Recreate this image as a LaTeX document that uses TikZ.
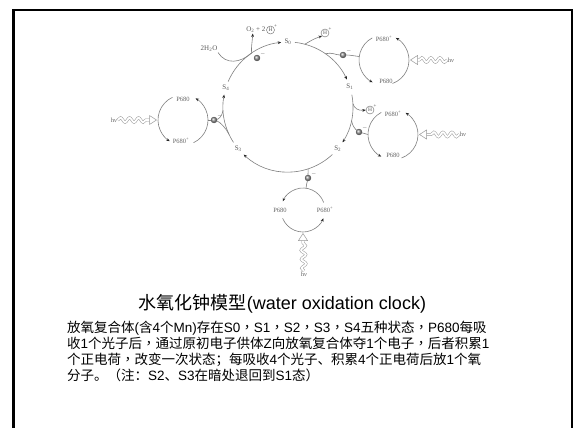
\documentclass[tikz,border=0pt]{standalone}
\usepackage{fontspec}
\setmainfont{Liberation Serif}
\newfontfamily\cjk{Noto Sans CJK SC}
\newfontfamily\cjktc{Noto Sans CJK TC}
\newfontfamily\lat{Liberation Sans}
\usetikzlibrary{arrows.meta,decorations.pathmorphing}
\newcommand\LL[1]{{\lat #1}}
\newcommand\CM{{\cjktc ，}}
\begin{document}
\begin{tikzpicture}[x=1pt,y=1pt,
  lineg/.style={draw=black!50, line width=0.6pt},
  tip/.style={-{Stealth[length=3.5pt,width=2.8pt,color=black!85]}},
  slab/.style={font=\fontsize{7}{8}\selectfont, text=black!65, inner sep=0.5pt},
  plab/.style={font=\fontsize{6.5}{7}\selectfont, text=black!60, inner sep=0.5pt},
  sup/.style={font=\fontsize{5}{5}\selectfont, text=black!70, inner sep=0pt},
  eball/.style={circle, inner sep=0pt, minimum size=6pt, shade, ball color=black!40, draw=black!65, line width=0.3pt, label={[sup]25:$-$}},
  hplus/.style={circle, draw=black!60, line width=0.4pt, inner sep=0pt, minimum size=8pt, font=\fontsize{5.5}{5.5}\selectfont, text=black!65, label={[sup]35:+}},
  wavy/.style={draw=black!40, double=white, double distance=1.8pt, line width=0.5pt, decorate, decoration={snake, amplitude=2.3pt, segment length=9pt, post length=1pt}},
  ahead/.style={draw=black!40, fill=white, line width=0.5pt},
  body/.style={anchor=base west, inner sep=0pt, font=\fontsize{13.5}{16}\selectfont\cjk, text=black}]
\useasboundingbox (0,0) rectangle (573,-428);
\clip (0,0) rectangle (573,-428);
\fill[white] (0,0) rectangle (573,-428);
\draw[line width=2.5pt] (13.3,-440) -- (13.3,-10) -- (572.5,-10) -- (572.5,-440);

% main cycle
\coordinate (C) at (288,-107);
\foreach \n/\a in {0/90,1/18,2/-40,3/220,4/163}
  \node[slab] (S\n) at ([shift={(\a:65)}]C) {S\textsubscript{\n}};
\draw[lineg,tip] ([shift={(84:65)}]C) arc[start angle=84,end angle=25,radius=65];
\draw[lineg,tip] ([shift={(11:65)}]C) arc[start angle=11,end angle=-33,radius=65];
\draw[lineg,tip] ([shift={(-47:65)}]C) arc[start angle=-47,end angle=-133,radius=65];
\draw[lineg,tip] ([shift={(213:65)}]C) arc[start angle=213,end angle=169,radius=65];
\draw[lineg,tip] ([shift={(157:65)}]C) arc[start angle=157,end angle=96,radius=65];

% top: water in, O2 out
\coordinate (J) at ([shift={(124:65)}]C);
\node[slab] (w) at (209,-49) {2H\textsubscript{2}O};
\draw[lineg] (w.south east) .. controls (226,-65) and (240,-63) .. (J);
\node[slab,anchor=east] (o2) at (266,-30) {O\textsubscript{2} + 2};
\node[hplus] (h0) at (270.5,-30) {H};
\draw[lineg,tip] (J) .. controls (251,-48) and (252,-44) .. ([xshift=-3pt]o2.south);
\node[eball] (eA) at (257,-58) {};

% H+ after S0
\coordinate (B0) at ([shift={(75:65)}]C);
\node[hplus] (h1) at (325,-33) {H};
\draw[lineg,tip] (B0) .. controls (309,-42) and (313,-39) .. (h1.south west);

% loop 1 (top right)
\coordinate (L1) at (384,-60);
\coordinate (bB) at ([shift={(55:65)}]C);
\coordinate (L1w) at ([shift={(172:25)}]L1);
\node[eball] (eB) at (343,-55) {};
\draw[lineg] (bB) .. controls (332,-52) and (336,-55) .. (eB);
\draw[lineg] (eB) .. controls (350,-55) and (355,-56) .. (L1w);
\draw[lineg,tip] ([shift={(-70:25)}]L1) arc[start angle=-70,end angle=62,radius=25];
\draw[lineg,tip] ([shift={(118:25)}]L1) arc[start angle=118,end angle=243,radius=25];
\node[plab] (p1t) at ([yshift=21pt]L1) {P680\textsuperscript{+}};
\node[plab] (p1b) at ([yshift=-21pt,xshift=2pt]L1) {P680};
\coordinate (L1e) at ([shift={(0:25)}]L1);
\node[plab] (hv1) at (451,-60) {h\textit{ν}};
\draw[wavy] (hv1.west) -- ([xshift=8pt]L1e);
\draw[ahead] ([xshift=1.5pt]L1e) -- ++(7,4.5) -- ++(0,-9) -- cycle;

% H+ after S1
\coordinate (B1) at ([shift={(3:65)}]C);
\node[hplus] (h2) at (370,-110) {H};
\draw[lineg,tip] (B1) .. controls (354,-108) and (358,-111) .. (h2.west);

% loop 2 (mid right)
\coordinate (L2) at (393,-134.5);
\coordinate (bC) at ([shift={(-12:65)}]C);
\coordinate (L2w) at ([shift={(180:25)}]L2);
\node[eball] (eC) at (359,-132) {};
\draw[lineg] (eC) .. controls (355,-129) and (352,-125) .. (bC);
\draw[lineg] (eC) -- (L2w);
\draw[lineg,tip] ([shift={(-70:25)}]L2) arc[start angle=-70,end angle=60,radius=25];
\draw[lineg,tip] ([shift={(118:25)}]L2) arc[start angle=118,end angle=242,radius=25];
\node[plab] (p2t) at ([yshift=21pt]L2) {P680\textsuperscript{+}};
\node[plab] (p2b) at ([yshift=-21pt]L2) {P680};
\coordinate (L2e) at ([shift={(0:25)}]L2);
\node[plab] (hv2) at (463,-134.5) {h\textit{ν}};
\draw[wavy] (hv2.west) -- ([xshift=8pt]L2e);
\draw[ahead] ([xshift=1.5pt]L2e) -- ++(7,4.5) -- ++(0,-9) -- cycle;

% loop 3 (bottom)
\coordinate (L3) at (303,-210);
\coordinate (bD) at ([shift={(-72:65)}]C);
\coordinate (L3n) at ([shift={(82:22)}]L3);
\node[eball] (eD) at (308,-178) {};
\draw[lineg] (eD) -- (bD);
\draw[lineg] (eD) .. controls (307,-183) and (306,-186) .. (L3n);
\draw[lineg,tip] ([shift={(20:22)}]L3) arc[start angle=20,end angle=157,radius=22];
\draw[lineg,tip] ([shift={(202:22)}]L3) arc[start angle=202,end angle=338,radius=22];
\node[plab] (p3l) at ([xshift=-23pt]L3) {P680};
\node[plab] (p3r) at ([xshift=22pt]L3) {P680\textsuperscript{+}};
\coordinate (L3s) at ([shift={(270:22)}]L3);
\node[plab] (hv3) at (304,-274) {h\textit{ν}};
\draw[wavy] (hv3.north) -- ([yshift=-8pt]L3s);
\draw[ahead] ([yshift=-1.5pt]L3s) -- ++(4.5,-7) -- ++(-9,0) -- cycle;

% loop 4 (left)
\coordinate (L4) at (183,-120);
\coordinate (bE1) at ([shift={(183:65)}]C);
\coordinate (bE2) at ([shift={(205:65)}]C);
\coordinate (L4e) at ([shift={(0:25)}]L4);
\node[eball] (eE) at (214,-120) {};
\draw[lineg] (eE) .. controls (219,-119) and (222,-116) .. (bE1);
\draw[lineg] (eE) .. controls (220,-122) and (226,-128) .. (bE2);
\draw[lineg] (eE) -- (L4e);
\draw[lineg,tip] ([shift={(115:25)}]L4) arc[start angle=115,end angle=238,radius=25];
\draw[lineg,tip] ([shift={(-65:25)}]L4) arc[start angle=-65,end angle=60,radius=25];
\node[plab] (p4t) at ([yshift=21pt]L4) {P680};
\node[plab] (p4b) at ([yshift=-21pt,xshift=-2pt]L4) {P680\textsuperscript{+}};
\coordinate (L4w) at ([shift={(180:25)}]L4);
\node[plab] (hv4) at (114,-120) {h\textit{ν}};
\draw[wavy] (hv4.east) -- ([xshift=-8pt]L4w);
\draw[ahead] ([xshift=-1.5pt]L4w) -- ++(-7,4.5) -- ++(0,-9) -- cycle;

% texts
\node[anchor=base, inner sep=0pt, font=\fontsize{18}{20}\selectfont\cjk] (title) at (282.5,-309) {水氧化钟模型\LL{(water oxidation clock)}};
\node[body] (t1) at (67,-332) {放氧复合体\LL{(}含\LL{4}个\LL{Mn)}存在\LL{S0}\CM\LL{S1}\CM\LL{S2}\CM\LL{S3}\CM\LL{S4}五种状态\CM\LL{P680}每吸};
\node[body] (t2) at (67,-348) {收\LL{1}个光子后\CM 通过原初电子供体\LL{Z}向放氧复合体夺\LL{1}个电子\CM 后者积累\LL{1}};
\node[body] (t3) at (67,-364) {个正电荷\CM 改变一次状态；每吸收\LL{4}个光子、积累\LL{4}个正电荷后放\LL{1}个氧};
\node[body] (t4) at (67,-380) {分子。（注：\LL{S2}、\LL{S3}在暗处退回到\LL{S1}态）};
\end{tikzpicture}
\end{document}
